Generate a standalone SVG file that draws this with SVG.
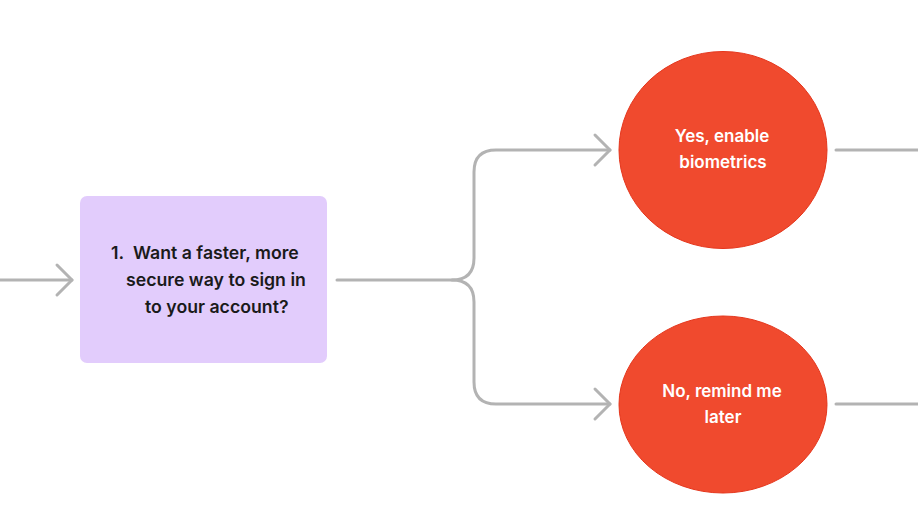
<svg xmlns="http://www.w3.org/2000/svg" width="918" height="528" viewBox="0 0 918 528">
<style>
.edge{fill:none;stroke:#B3B3B3;stroke-width:3;stroke-linecap:round;stroke-linejoin:round}
.t{font-family:Inter,"Liberation Sans",sans-serif;font-weight:600;font-size:17px}
.box{font-size:17.7px}
.dark{fill:#1A1A1A}
.light{fill:#FFFFFF;text-anchor:middle}
.circ{fill:#F04A2E;stroke:#E5361C;stroke-width:1}
</style>
<rect width="918" height="528" fill="#FFFFFF"/>
<g id="connectors">
<path class="edge" d="M0 280 H72"/>
<path class="edge" d="M57 265 L72 280 L57 295"/>
<path class="edge" d="M337 280 H452 Q474 280 474 258 V172 Q474 150 496 150 H610"/>
<path class="edge" d="M595 135 L610 150 L595 165"/>
<path class="edge" d="M452 280 Q474 280 474 302 V382 Q474 404 496 404 H610"/>
<path class="edge" d="M595 389 L610 404 L595 419"/>
<path class="edge" d="M836 150 H918"/>
<path class="edge" d="M836 404 H918"/>
</g>
<g id="question">
<rect x="80" y="196" width="247" height="167" rx="7" fill="#E2CCFC"/>
<text class="t box dark" x="111" y="259">1.</text>
<text class="t box dark" x="133" y="259">Want a faster, more</text>
<text class="t box dark" x="126" y="286">secure way to sign in</text>
<text class="t box dark" x="145" y="313">to your account?</text>
</g>
<g id="yes">
<ellipse class="circ" cx="723" cy="150" rx="104" ry="98.5"/>
<text class="t light" x="722" y="142">Yes, enable</text>
<text class="t light" x="723" y="168">biometrics</text>
</g>
<g id="no">
<ellipse class="circ" cx="723" cy="404.5" rx="104" ry="88.5"/>
<text class="t light" x="722" y="397">No, remind me</text>
<text class="t light" x="723" y="423">later</text>
</g>
</svg>
